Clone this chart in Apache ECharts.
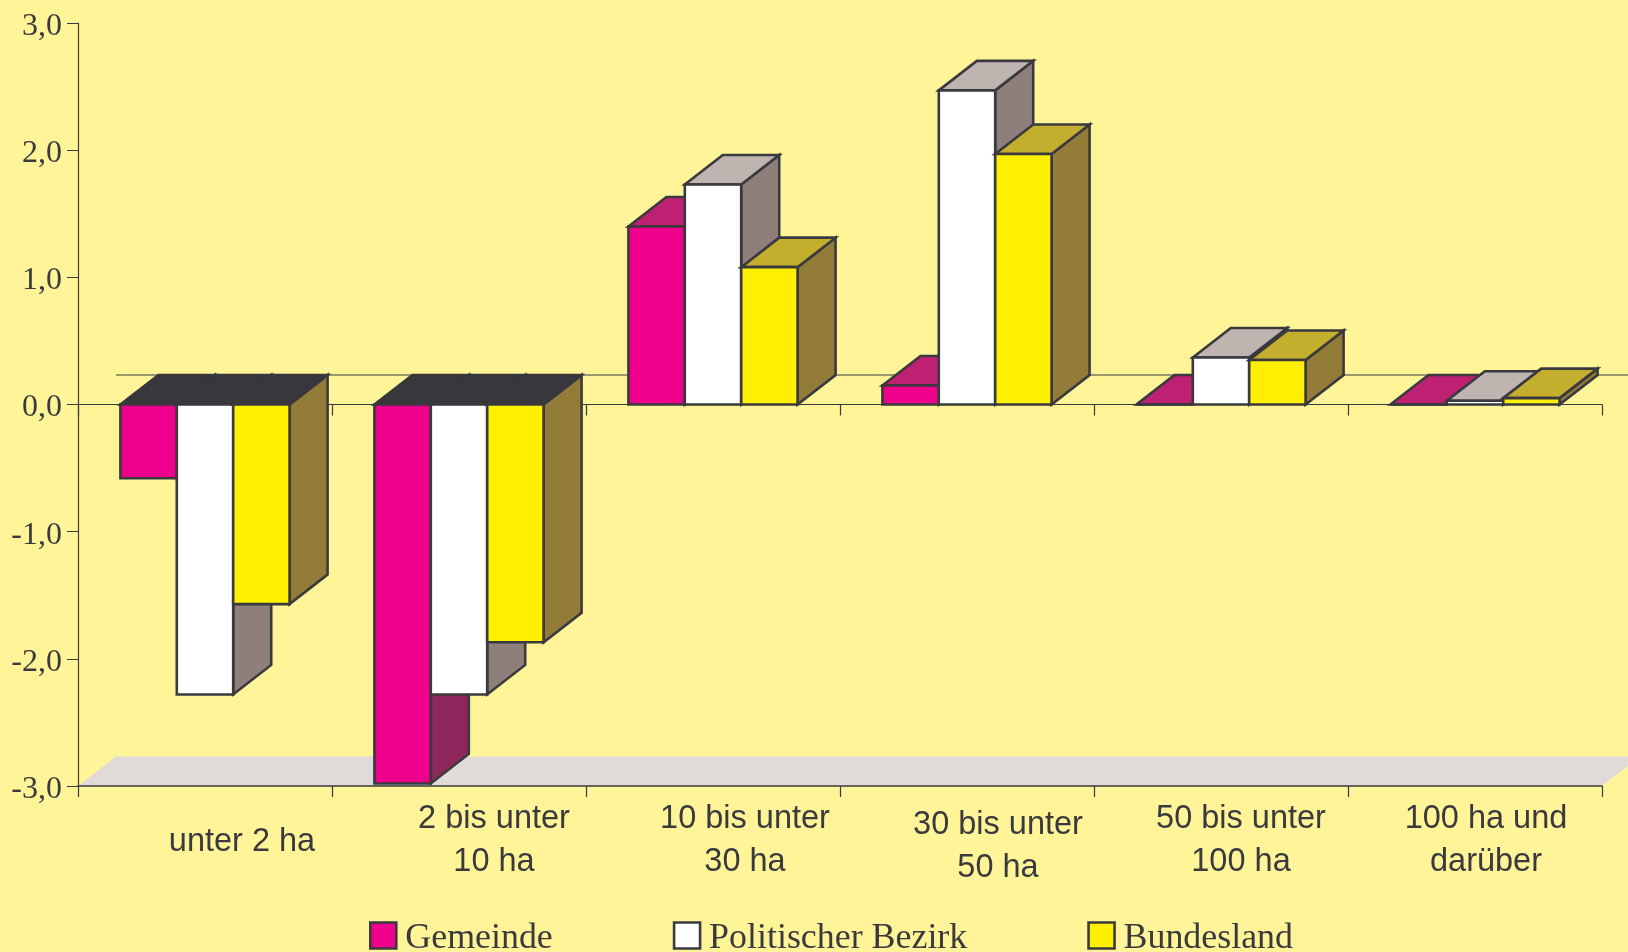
<!DOCTYPE html>
<html>
<head>
<meta charset="utf-8">
<script src="https://cdn.jsdelivr.net/npm/echarts@6/dist/echarts.min.js"></script>
<style>html,body{margin:0;padding:0;background:#FFF598}#c{width:1628px;height:952px}</style>
</head>
<body>
<div id="c"></div>
<script>
const categories = ['unter 2 ha', '2 bis unter\n10 ha', '10 bis unter\n30 ha', '30 bis unter\n50 ha', '50 bis unter\n100 ha', '100 ha und\ndarüber'];
const gemeinde = [-0.58, -2.98, 1.4, 0.15, 0, 0];
const bezirk = [-2.28, -2.28, 1.73, 2.47, 0.37, 0.03];
const bundesland = [-1.57, -1.87, 1.08, 1.97, 0.35, 0.05];
const seriesNames = ['Gemeinde', 'Politischer Bezirk', 'Bundesland'];

const INK = '#3A393E', BG = '#FFF598', FLOOR = '#E0DBD8', DARKTOP = '#38373C';
const DX = 38, DY = -29.5, BARFRAC = 0.222, SW = 2.6;
const labelShift = [37, 35, 32, 31, 20, 11];
const labelTop = [45, 0, 0, 11, 0, 0];
const labelTop2 = [0, 0, 0, 11, 0, 0];

const faces = [
  { front: '#EE008C', top: '#BE2072', side: '#8E285C' },
  { front: '#FFFFFF', top: '#BFB4AF', side: '#8E7F7B' },
  { front: '#FFF000', top: '#C4AE2D', side: '#927C38' }
];

function barRender(k) {
  return function (params, api) {
    const cat = api.value(0), v = api.value(1);
    const c0 = api.coord([cat, 0]), cv = api.coord([cat, v]);
    const w = api.size([1, 0])[0] * BARFRAC;
    const x1 = c0[0] + (k - 1.5) * w, x2 = x1 + w;
    const y0 = c0[1], yv = cv[1];
    const st = (fill, stroke) => ({ fill, stroke: stroke || INK, lineWidth: SW, lineJoin: 'miter' });
    const f = faces[k];
    const yTop = Math.min(y0, yv);
    const topFill = v < 0 ? DARKTOP : f.top;
    return {
      type: 'group',
      children: [
        { type: 'polygon', shape: { points: [[x2, y0], [x2 + DX, y0 + DY], [x2 + DX, yv + DY], [x2, yv]] }, style: st(f.side) },
        { type: 'polygon', shape: { points: [[x1, yTop], [x1 + DX, yTop + DY], [x2 + DX, yTop + DY], [x2, yTop]] }, style: st(topFill, v < 0 ? DARKTOP : INK) },
        { type: 'rect', shape: { x: x1, y: yTop, width: w, height: Math.abs(yv - y0) }, style: st(f.front) }
      ]
    };
  };
}

function floorRender(params, api) {
  const cs = params.coordSys;
  const yb = api.coord([0, -3])[1], yz = api.coord([0, 0])[1];
  const l = cs.x, r = cs.x + cs.width;
  return {
    type: 'group',
    children: [
      { type: 'polygon', shape: { points: [[l, yb], [l + DX, yb + DY], [r + DX, yb + DY], [r, yb]] }, style: { fill: FLOOR } },
      { type: 'line', shape: { x1: l + DX, y1: yz + DY, x2: r + DX, y2: yz + DY }, style: { stroke: INK, lineWidth: 1 } }
    ]
  };
}

const rich = {};
categories.forEach((c, i) => {
  rich['s' + i] = { fontFamily: 'Liberation Sans', fontSize: 32.5, color: INK, lineHeight: 43, padding: [labelTop2[i], 0, 0, labelShift[i] * 2] };
  rich['t' + i] = { fontFamily: 'Liberation Sans', fontSize: 32.5, color: INK, lineHeight: 43, padding: [labelTop[i], 0, 0, labelShift[i] * 2] };
});

const chart = echarts.init(document.getElementById('c'), null, { renderer: 'canvas' });
chart.setOption({
  animation: false,
  backgroundColor: BG,
  grid: { left: 78, right: 26, top: 23, bottom: 166 },
  legend: {
    left: 369, top: 914, padding: 0, itemWidth: 26, itemHeight: 26, itemGap: 120, selectedMode: false,
    formatter: '{a|{name}}',
    textStyle: {
      padding: [0, 0, 0, 4],
      rich: { a: { fontFamily: 'Liberation Serif', fontSize: 35.9, color: INK, lineHeight: 36, padding: [7, 0, 0, 0] } }
    },
    data: seriesNames.map((n, i) => ({ name: n, icon: 'rect', itemStyle: { color: faces[i].front, borderColor: INK, borderWidth: 2.6 } }))
  },
  xAxis: [
    {
      type: 'category', data: categories, position: 'bottom', z: 1,
      axisLine: { onZero: false, lineStyle: { color: INK, width: 1.6 } },
      axisTick: { show: true, interval: 0, length: 11, lineStyle: { color: INK, width: 1.2 } },
      splitLine: { show: false },
      axisLabel: {
        interval: 0, margin: 12, verticalAlign: 'top', rich,
        formatter: (value, idx) => value.split('\n').map((s, j) => `{${j === 0 ? 't' : 's'}${idx}|${s}}`).join('\n')
      }
    },
    {
      type: 'category', data: categories, z: 1,
      axisLine: { onZero: true, lineStyle: { color: INK, width: 1.2 } },
      axisTick: { show: true, inside: true, interval: 0, length: 11, lineStyle: { color: INK, width: 1.2 } },
      axisLabel: { show: false }
    }
  ],
  yAxis: {
    type: 'value', min: -3, max: 3, interval: 1, z: 1,
    axisLine: { show: true, onZero: false, lineStyle: { color: INK, width: 1.2 } },
    axisTick: { show: true, length: 11, lineStyle: { color: INK, width: 1 } },
    splitLine: { show: false },
    axisLabel: {
      margin: 16,
      rich: { y: { fontFamily: 'Liberation Serif', fontSize: 32, color: INK, lineHeight: 38, padding: [7, 0, 0, 0] } },
      formatter: v => `{y|${v.toFixed(1).replace('.', ',')}}`
    }
  },
  series: [
    { type: 'custom', name: '_floor', z: 0, silent: true, renderItem: floorRender, data: [[0, 0]], encode: { x: 0, y: 1 }, clip: false },
    ...[gemeinde, bezirk, bundesland].map((vals, k) => ({
      type: 'custom', name: seriesNames[k], z: 2, renderItem: barRender(k),
      itemStyle: { color: faces[k].front, borderColor: INK },
      data: vals.map((v, i) => [i, v]), encode: { x: 0, y: 1 }, clip: false
    }))
  ]
});
</script>
</body>
</html>
